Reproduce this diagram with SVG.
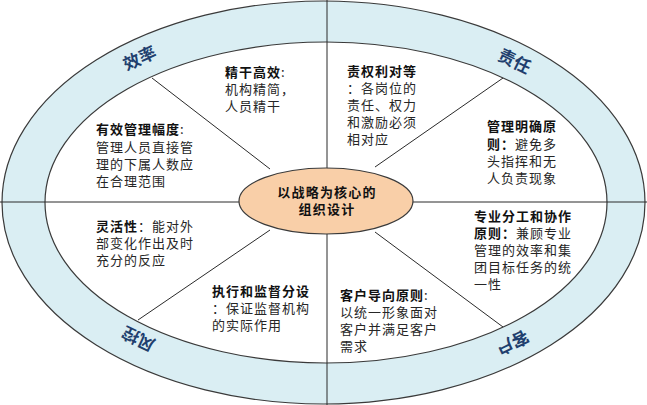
<svg xmlns="http://www.w3.org/2000/svg" width="647" height="405" viewBox="0 0 647 405">
<style>
.band{fill:#DAEEF3;stroke:#3a3a3a;stroke-width:1.2}
.inner{fill:#ffffff;stroke:#3a3a3a;stroke-width:1.2}
.core{fill:#F9CFA8;stroke:#3a3a3a;stroke-width:1.2}
.ln{stroke:#2a2a2a;stroke-width:1;fill:none}
.lab{font-family:"Noto Sans CJK SC","Noto Sans",sans-serif;font-size:17px;font-weight:bold;fill:#1F3F6E;text-anchor:middle;dominant-baseline:central}
.t{font-family:"Noto Sans CJK SC","Noto Sans",sans-serif;font-size:13px;letter-spacing:1px;fill:#262626}
.b{font-weight:bold;fill:#111}
.c{font-family:"Noto Sans CJK SC","Noto Sans",sans-serif;font-size:13px;letter-spacing:1.2px;font-weight:bold;fill:#111;text-anchor:middle}
</style>
<g id="ring">
<ellipse class="band" cx="323.5" cy="202.5" rx="321.5" ry="201.5"/>
<ellipse class="inner" cx="326" cy="202.5" rx="281" ry="160.5"/>
</g>
<g id="connectors">
<line class="ln" x1="327" y1="0" x2="327" y2="169"/>
<line class="ln" x1="327" y1="234" x2="327" y2="405"/>
<line class="ln" x1="0" y1="202" x2="239" y2="202"/>
<line class="ln" x1="413" y1="202" x2="647" y2="202"/>
<line class="ln" x1="152" y1="78" x2="270" y2="169"/>
<line class="ln" x1="503" y1="78" x2="375" y2="167"/>
<line class="ln" x1="138" y1="320" x2="270" y2="230"/>
<line class="ln" x1="503" y1="327" x2="375" y2="232"/>
</g>
<g id="labels">
<text class="lab" transform="translate(139,57) rotate(-25)">效率</text>
<text class="lab" transform="translate(515,60) rotate(26)">责任</text>
<text class="lab" transform="translate(138,340) rotate(-154)">风控</text>
<text class="lab" transform="translate(513,344) rotate(154)">客户</text>
</g>
<g id="center">
<ellipse class="core" cx="326" cy="201" rx="87" ry="33"/>
<text class="c"><tspan x="327" y="197">以战略为核心的</tspan><tspan x="327" y="214">组织设计</tspan></text>
</g>
<g id="n1">
<text class="t"><tspan x="225" y="77"><tspan class="b">精干高效</tspan>:</tspan><tspan x="225" y="94">机构精简，</tspan><tspan x="225" y="111">人员精干</tspan></text>
</g>
<g id="n2">
<text class="t"><tspan x="96" y="134"><tspan class="b">有效管理幅度</tspan>:</tspan><tspan x="96" y="152">管理人员直接管</tspan><tspan x="96" y="169">理的下属人数应</tspan><tspan x="96" y="186">在合理范围</tspan></text>
</g>
<g id="n3">
<text class="t"><tspan class="b" x="347" y="76">责权利对等</tspan><tspan x="347" y="93">：各岗位的</tspan><tspan x="347" y="110">责任、权力</tspan><tspan x="347" y="127">和激励必须</tspan><tspan x="347" y="144">相对应</tspan></text>
</g>
<g id="n4">
<text class="t"><tspan class="b" x="487" y="131">管理明确原</tspan><tspan x="487" y="149"><tspan class="b">则：</tspan>避免多</tspan><tspan x="487" y="166">头指挥和无</tspan><tspan x="487" y="183">人负责现象</tspan></text>
</g>
<g id="n5">
<text class="t"><tspan x="96" y="231"><tspan class="b">灵活性</tspan>：能对外</tspan><tspan x="96" y="248">部变化作出及时</tspan><tspan x="96" y="265">充分的反应</tspan></text>
</g>
<g id="n6">
<text class="t"><tspan class="b" x="212" y="296">执行和监督分设</tspan><tspan x="212" y="313">：保证监督机构</tspan><tspan x="212" y="330">的实际作用</tspan></text>
</g>
<g id="n7">
<text class="t"><tspan class="b" x="474" y="221">专业分工和协作</tspan><tspan x="474" y="238"><tspan class="b">原则：</tspan>兼顾专业</tspan><tspan x="474" y="255">管理的效率和集</tspan><tspan x="474" y="272">团目标任务的统</tspan><tspan x="474" y="289">一性</tspan></text>
</g>
<g id="n8">
<text class="t"><tspan x="340" y="300"><tspan class="b">客户导向原则</tspan>:</tspan><tspan x="340" y="317">以统一形象面对</tspan><tspan x="340" y="334">客户并满足客户</tspan><tspan x="340" y="351">需求</tspan></text>
</g>
</svg>
